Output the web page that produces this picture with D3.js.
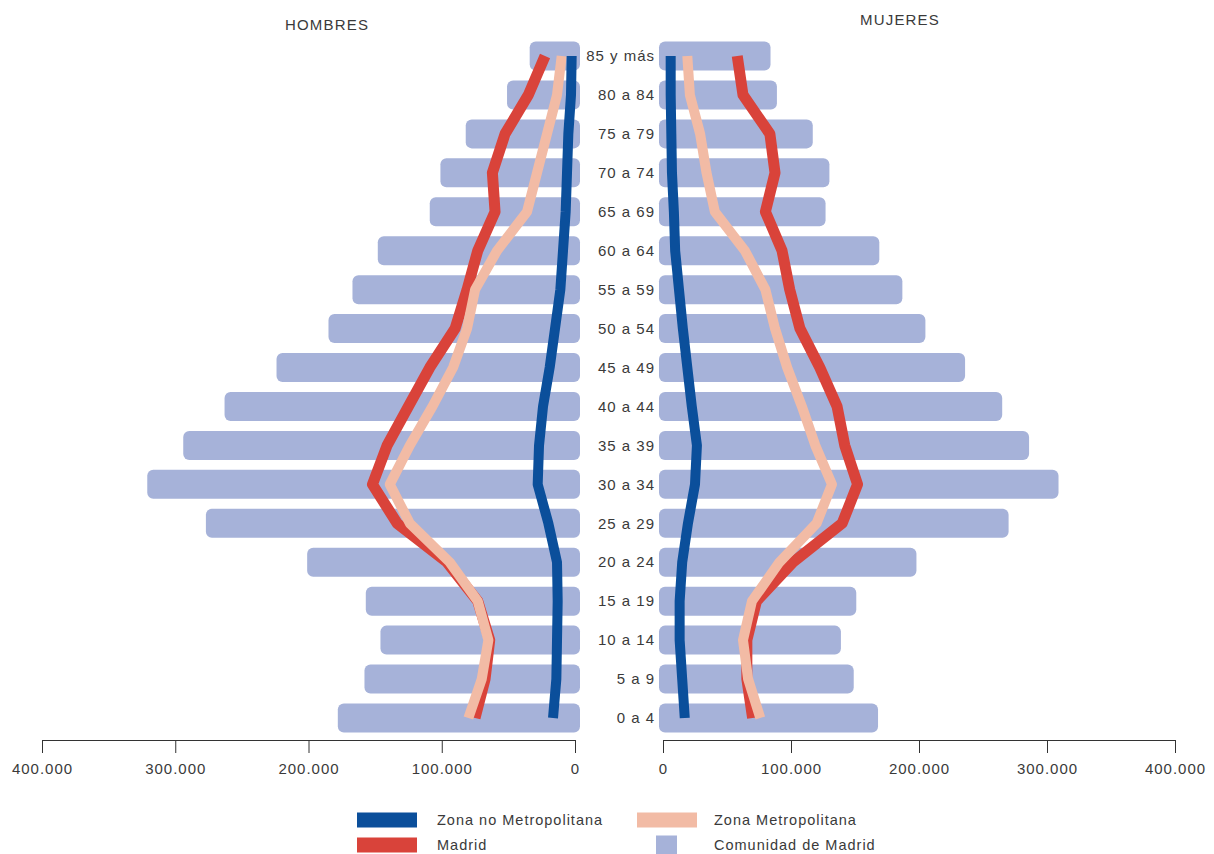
<!DOCTYPE html>
<html>
  <head>
    <script type="text/javascript" src="https://cdn.jsdelivr.net/npm/d3@7/dist/d3.min.js"></script>
    <style>
      body { margin: 0; background: #fff; }
      text { font-family: "Liberation Sans", Arial, sans-serif; fill: #3a3a3a; letter-spacing: 1px; }
      .axis path, .axis line { stroke: #333; }
    </style>
  </head>
  <body>
  <script type='text/javascript'>

    // age groups, top to bottom
    var edades = ["85 y más","80 a 84","75 a 79","70 a 74","65 a 69","60 a 64","55 a 59","50 a 54",
                  "45 a 49","40 a 44","35 a 39","30 a 34","25 a 29","20 a 24","15 a 19","10 a 14","5 a 9","0 a 4"];

    // values in thousands of people
    var comunidad_h = [34, 51, 82, 101, 109, 148, 167, 185, 224, 263, 294, 321, 277, 201, 157, 146, 158, 178];
    var comunidad_m = [84, 89, 117, 130, 127, 169, 187, 205, 236, 265, 286, 309, 270, 198, 151, 139, 149, 168];

    var madrid_h = [22.5, 35, 52.5, 62, 60, 73, 81, 90, 109, 125, 141, 152, 133.5, 96, 73, 64, 67.5, 75];
    var madrid_m = [58, 62.5, 83.5, 87.5, 80, 93, 99, 107, 122.5, 136, 142, 152, 140, 101.5, 73, 65.5, 65.5, 70];

    var metro_h = [10, 13.5, 21, 28.5, 36, 58.5, 75, 81, 91.5, 107, 124, 139, 124, 94, 73, 65, 70, 80];
    var metro_m = [19, 21, 29, 34, 40.5, 64, 80, 87.5, 97, 108.5, 119, 132, 120, 91, 69.5, 62.5, 66.5, 76];

    var nometro_h = [2.5, 3, 5, 6, 7, 9, 11, 15, 19, 24, 27, 28, 20, 13.5, 13, 13.5, 14, 16.5];
    var nometro_m = [6, 6, 6.5, 7, 8.5, 9.5, 12.5, 15.5, 19, 22.5, 26.5, 25, 19.5, 15, 13, 13, 15, 17];

    var ticks = [0, 100, 200, 300, 400];

    var svg = d3.select("body").append("svg")
        .attr("width", 1214)
        .attr("height", 854);

    var xL = d3.scaleLinear().domain([0, 400]).range([575, 42]);
    var xR = d3.scaleLinear().domain([0, 400]).range([663, 1175]);
    var y = d3.scalePoint().domain(edades).range([56, 718]);

    var BAR_H = 29;
    var BAR_COL = "#a6b2d9";

    // BARS //
    svg.append("g").selectAll("rect").data(comunidad_h).enter().append("rect")
        .attr("x", function(d){ return xL(d); })
        .attr("y", function(d, i){ return y(edades[i]) - BAR_H/2; })
        .attr("width", function(d){ return xL(0) - xL(d) + 5; })
        .attr("height", BAR_H)
        .attr("rx", 6)
        .attr("fill", BAR_COL);

    svg.append("g").selectAll("rect").data(comunidad_m).enter().append("rect")
        .attr("x", xR(0) - 4)
        .attr("y", function(d, i){ return y(edades[i]) - BAR_H/2; })
        .attr("width", function(d){ return xR(d) - xR(0) + 4; })
        .attr("height", BAR_H)
        .attr("rx", 6)
        .attr("fill", BAR_COL);

    // LINES //
    function serie(vals, xs, color, w){
      var line = d3.line()
          .x(function(d){ return xs(d); })
          .y(function(d, i){ return y(edades[i]); });
      svg.append("path")
          .attr("d", line(vals))
          .attr("fill", "none")
          .attr("stroke", color)
          .attr("stroke-width", w)
          .attr("stroke-linejoin", "round");
    }

    var RED = "#d9433a", PINK = "#f2bba5", BLUE = "#0b4f9b";

    serie(madrid_h, xL, RED, 11);
    serie(madrid_m, xR, RED, 11);
    serie(metro_h, xL, PINK, 10);
    serie(metro_m, xR, PINK, 10);
    serie(nometro_h, xL, BLUE, 10);
    serie(nometro_m, xR, BLUE, 10);

    // AGE LABELS //
    svg.append("g").selectAll("text").data(edades).enter().append("text")
        .attr("x", 655)
        .attr("y", function(d){ return y(d); })
        .attr("dy", "0.35em")
        .attr("text-anchor", "end")
        .style("font-size", "15px")
        .text(function(d){ return d; });

    // AXES //
    var fmt = function(d){ return d3.format(",")(d * 1000).replace(/,/g, "."); };

    var axL = svg.append("g").attr("class", "axis")
        .attr("transform", "translate(0,740)")
        .call(d3.axisBottom(xL).tickValues(ticks).tickFormat(fmt).tickSize(13).tickSizeOuter(0).tickPadding(10));
    var axR = svg.append("g").attr("class", "axis")
        .attr("transform", "translate(0,740)")
        .call(d3.axisBottom(xR).tickValues(ticks).tickFormat(fmt).tickSize(13).tickSizeOuter(0).tickPadding(10));
    svg.selectAll(".axis text")
        .style("font-size", "15px")
        .style("font-family", "'Liberation Sans', Arial, sans-serif")
        .attr("fill", "#3a3a3a");

    // TITLES //
    svg.append("text").attr("x", 327).attr("y", 25).attr("dy", "0.35em")
        .attr("text-anchor", "middle").style("font-size", "15px").style("letter-spacing", "1.2px")
        .text("HOMBRES");
    svg.append("text").attr("x", 900).attr("y", 20).attr("dy", "0.35em")
        .attr("text-anchor", "middle").style("font-size", "15px").style("letter-spacing", "1.2px")
        .text("MUJERES");

    // LEGEND //
    var leyenda = [
      {name: "Zona no Metropolitana", color: BLUE, x: 357, y: 820, w: 60, h: 15},
      {name: "Madrid", color: RED, x: 357, y: 845, w: 60, h: 15},
      {name: "Zona Metropolitana", color: PINK, x: 637, y: 820, w: 60, h: 15},
      {name: "Comunidad de Madrid", color: BAR_COL, x: 656, y: 845, w: 21, h: 19}
    ];
    var lg = svg.append("g").selectAll("g").data(leyenda).enter().append("g");
    lg.append("rect")
        .attr("x", function(d){ return d.x; })
        .attr("y", function(d){ return d.y - d.h/2; })
        .attr("width", function(d){ return d.w; })
        .attr("height", function(d){ return d.h; })
        .attr("fill", function(d){ return d.color; });
    lg.append("text")
        .attr("x", function(d){ return d.x < 500 ? 437 : 714; })
        .attr("y", function(d){ return d.y; })
        .attr("dy", "0.35em")
        .style("font-size", "14.5px")
        .text(function(d){ return d.name; });

  </script>
  </body>
</html>
